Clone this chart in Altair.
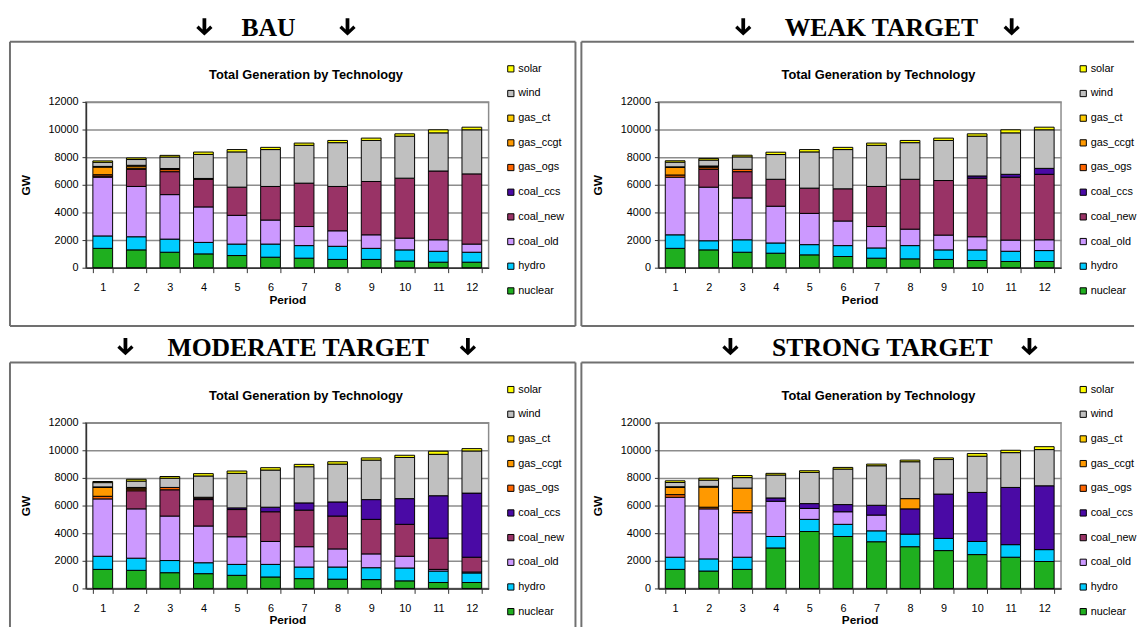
import altair as alt
import pandas as pd

periods = list(range(1, 13))
techs = ["nuclear", "hydro", "coal_old", "coal_new", "coal_ccs",
         "gas_ogs", "gas_ccgt", "gas_ct", "wind", "solar"]
tech_colors = ["#1FAF1F", "#00CCFF", "#CC99FF", "#993366", "#4A0AA5",
               "#FF6600", "#FF9900", "#FFCC00", "#C0C0C0", "#FFFF00"]

bau = {
    "nuclear":  [1400, 1290, 1120, 1000, 880, 760, 690, 600, 600, 480, 400, 400],
    "hydro":    [900, 950, 950, 830, 830, 950, 910, 950, 800, 810, 790, 720],
    "coal_old": [4250, 3640, 3220, 2570, 2080, 1740, 1380, 1120, 980, 850, 830, 590],
    "coal_new": [80, 1240, 1660, 2000, 2040, 2430, 3140, 3210, 3860, 4340, 4980, 5080],
    "coal_ccs": [0, 0, 0, 0, 0, 0, 0, 0, 0, 0, 0, 0],
    "gas_ogs":  [100, 80, 150, 40, 0, 0, 0, 0, 0, 0, 0, 0],
    "gas_ccgt": [550, 150, 50, 0, 0, 0, 0, 0, 0, 0, 0, 0],
    "gas_ct":   [50, 60, 30, 20, 0, 0, 0, 0, 0, 0, 0, 0],
    "wind":     [300, 420, 830, 1740, 2550, 2670, 2740, 3170, 2970, 3040, 2760, 3190],
    "solar":    [100, 110, 120, 170, 170, 160, 160, 160, 170, 170, 220, 190],
}
weak = {
    "nuclear":  [1400, 1290, 1120, 1050, 930, 810, 690, 640, 600, 520, 450, 450],
    "hydro":    [980, 660, 900, 740, 740, 790, 740, 960, 690, 770, 740, 790],
    "coal_old": [4170, 3880, 3030, 2660, 2260, 1780, 1550, 1190, 1070, 950, 810, 780],
    "coal_new": [0, 1290, 1900, 1950, 1830, 2330, 2900, 3610, 3950, 4240, 4550, 4740],
    "coal_ccs": [0, 0, 0, 0, 0, 0, 0, 0, 0, 160, 210, 430],
    "gas_ogs":  [160, 120, 170, 0, 0, 0, 0, 0, 0, 0, 0, 0],
    "gas_ccgt": [550, 80, 0, 0, 0, 0, 0, 0, 0, 0, 0, 0],
    "gas_ct":   [40, 40, 0, 0, 0, 0, 0, 0, 0, 0, 0, 0],
    "wind":     [340, 430, 900, 1790, 2620, 2840, 2980, 2650, 2900, 2880, 3000, 2790],
    "solar":    [100, 120, 120, 170, 170, 160, 160, 160, 170, 170, 220, 190],
}
moderate = {
    "nuclear":  [1380, 1310, 1140, 1070, 950, 830, 710, 670, 640, 550, 430, 430],
    "hydro":    [950, 880, 880, 790, 790, 910, 840, 880, 860, 930, 830, 690],
    "coal_old": [4150, 3570, 3220, 2660, 2000, 1660, 1470, 1310, 1000, 850, 120, 70],
    "coal_new": [0, 1310, 1900, 1910, 1970, 2150, 2650, 2380, 2500, 2310, 2260, 1070],
    "coal_ccs": [0, 0, 0, 100, 120, 330, 520, 1020, 1430, 1860, 3070, 4640],
    "gas_ogs":  [190, 120, 170, 70, 0, 0, 0, 0, 0, 0, 0, 0],
    "gas_ccgt": [640, 80, 0, 0, 0, 0, 0, 0, 0, 0, 0, 0],
    "gas_ct":   [40, 40, 0, 0, 0, 0, 0, 0, 0, 0, 0, 0],
    "wind":     [310, 460, 670, 1540, 2500, 2690, 2620, 2740, 2860, 2980, 3000, 3050],
    "solar":    [80, 130, 120, 170, 170, 170, 170, 170, 160, 160, 220, 170],
}
strong = {
    "nuclear":  [1380, 1260, 1380, 2930, 4120, 3760, 3380, 3020, 2740, 2450, 2260, 1950],
    "hydro":    [880, 880, 880, 830, 880, 880, 790, 910, 880, 950, 910, 860],
    "coal_old": [4340, 3620, 3220, 2550, 790, 910, 1140, 0, 0, 0, 0, 0],
    "coal_new": [0, 0, 0, 0, 0, 0, 0, 0, 0, 0, 0, 0],
    "coal_ccs": [0, 0, 0, 240, 350, 520, 710, 1830, 3210, 3550, 4140, 4620],
    "gas_ogs":  [190, 120, 160, 0, 0, 0, 0, 0, 0, 0, 0, 0],
    "gas_ccgt": [520, 1450, 1620, 0, 0, 0, 0, 740, 0, 0, 0, 0],
    "gas_ct":   [50, 60, 0, 0, 0, 0, 0, 0, 0, 0, 0, 0],
    "wind":     [310, 450, 760, 1660, 2260, 2570, 2860, 2670, 2500, 2620, 2520, 2620],
    "solar":    [120, 140, 150, 120, 120, 120, 120, 120, 120, 190, 170, 210],
}

headings = ["BAU", "WEAK TARGET", "MODERATE TARGET", "STRONG TARGET"]
chart_title = "Total Generation by Technology"
y_ticks = [0, 2000, 4000, 6000, 8000, 10000, 12000]

W, H = 408, 168
SANS = "Liberation Sans Narrow, Arial Narrow, Liberation Sans, Arial"
FRAME = "#707070"
ARROW = ("M -0.22 -1 L 0.22 -1 L 0.22 0.3 L 0.68 -0.16 L 0.95 0.12 "
         "L 0 1 L -0.95 0.12 L -0.68 -0.16 L -0.22 0.3 Z")
dummy = pd.DataFrame({"d": [0]})
legend_order = techs[::-1]
legend_colors = tech_colors[::-1]


def frame_rule(**enc):
    return alt.Chart(dummy).mark_rule(color=FRAME, strokeWidth=2).encode(**enc)


def arrow(x, y):
    return alt.Chart(dummy).mark_point(
        shape=ARROW, filled=True, fill="black", strokeWidth=0, size=300, opacity=1
    ).encode(x=alt.value(x), y=alt.value(y))


def panel(values, heading, hx, ax1, ax2, hy, is_right, is_bottom):
    rows = []
    for i, t in enumerate(techs):
        for p, v in zip(periods, values[t]):
            if v > 0:
                rows.append({"Period": p, "tech": t, "GW": v, "order": i})
    df = pd.DataFrame(rows)

    bars = alt.Chart(df).mark_bar(size=20, stroke="black", strokeWidth=1).encode(
        x=alt.X("Period:O", title="Period",
                scale=alt.Scale(paddingInner=0.4, paddingOuter=0.2),
                axis=alt.Axis(labelAngle=0, tickBand="extent", tickSize=5,
                              labelPadding=9, titlePadding=2,
                              labelFont="Liberation Sans", labelFontSize=11,
                              labelColor="black", titleFont=SANS,
                              titleFontSize=12, titleFontWeight="bold",
                              titleColor="black",
                              domainColor="#333333", tickColor="#333333",
                              domainWidth=1.5, grid=False)),
        y=alt.Y("GW:Q", title="GW", scale=alt.Scale(domain=[0, 12000]),
                axis=alt.Axis(values=y_ticks, format="d", tickSize=4,
                              labelPadding=4, titlePadding=16,
                              labelFont="Liberation Sans", labelFontSize=11,
                              labelColor="black", titleFont=SANS,
                              titleFontSize=12, titleFontWeight="bold",
                              titleColor="black",
                              domainColor="#333333", tickColor="#333333",
                              domainWidth=1.5, gridColor="#8c8c8c",
                              gridWidth=1.5)),
        color=alt.Color("tech:N",
                        scale=alt.Scale(domain=legend_order, range=legend_colors),
                        legend=alt.Legend(orient="none", legendX=425, legendY=-39,
                                          title=None, symbolType="square",
                                          symbolSize=40, symbolStrokeColor="black",
                                          symbolStrokeWidth=1, symbolOpacity=1,
                                          labelFont=SANS, labelFontSize=11,
                                          labelColor="black", labelOffset=2,
                                          rowPadding=13.0, padding=0)),
        order=alt.Order("order:Q", sort="ascending"),
    )

    inner_title = alt.Chart(dummy).mark_text(
        text=chart_title, font=SANS, fontSize=13, fontWeight="bold",
        color="black", baseline="middle", align="center"
    ).encode(x=alt.value(223), y=alt.value(-27))

    head = alt.Chart(dummy).mark_text(
        text=heading, font="Liberation Serif", fontSize=26, fontWeight="bold",
        color="black", baseline="alphabetic", align="center"
    ).encode(x=alt.value(hx), y=alt.value(hy))

    left = -78 if is_right else -77
    right = 482 if is_right else 496
    top = -61
    bottom = 207 if is_bottom else 227
    layers = [
        frame_rule(x=alt.value(left), x2=alt.value(right), y=alt.value(top)),
        frame_rule(x=alt.value(left), y=alt.value(top), y2=alt.value(bottom)),
    ]
    if not is_right:
        layers.append(frame_rule(x=alt.value(right), y=alt.value(top), y2=alt.value(bottom)))
    if not is_bottom:
        layers.append(frame_rule(x=alt.value(left), x2=alt.value(right), y=alt.value(bottom)))
    layers += [head, arrow(ax1, hy - 9), arrow(ax2, hy - 9), inner_title, bars]

    return alt.layer(*layers).properties(width=W, height=H)


p1 = panel(bau, headings[0], 185, 120, 265, -67, False, False)
p2 = panel(weak, headings[1], 226, 86, 358, -67, True, False)
p3 = panel(moderate, headings[2], 215, 40, 387, -68, False, True)
p4 = panel(strong, headings[3], 227, 73, 376, -68, True, True)

top_row = alt.hconcat(p1, p2, spacing=2).resolve_scale(color="independent")
bottom_row = alt.hconcat(p3, p4, spacing=2).resolve_scale(color="independent")

chart = alt.vconcat(top_row, bottom_row, spacing=6).resolve_scale(
    color="independent"
).properties(
    padding={"left": 0, "top": 2, "right": 0, "bottom": 0},
    background="white",
).configure_view(stroke="#8c8c8c", strokeWidth=1.5)

chart.save("out.html", embed_options={"renderer": "svg", "actions": False})
